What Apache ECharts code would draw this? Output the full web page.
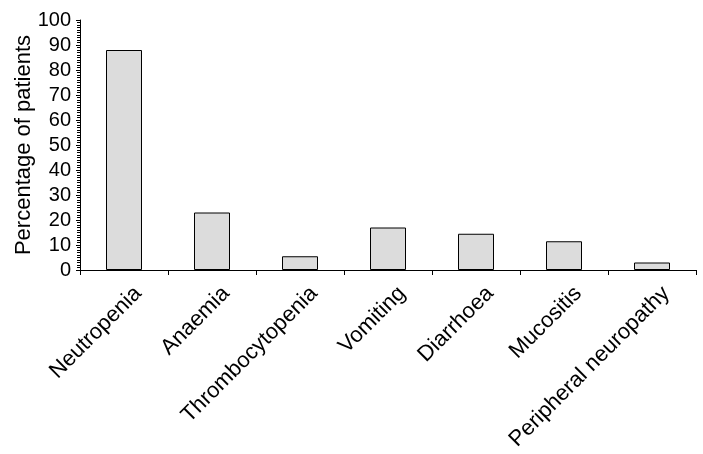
<!DOCTYPE html>
<html>
<head>
<meta charset="utf-8">
<script src="https://cdn.jsdelivr.net/npm/echarts@6/dist/echarts.min.js"></script>
<style>
  html, body { margin: 0; padding: 0; background: #fff; }
  #chart { width: 703px; height: 454px; }
</style>
</head>
<body>
<div id="chart"></div>
<script>
var categories = ['Neutropenia', 'Anaemia', 'Thrombocytopenia', 'Vomiting', 'Diarrhoea', 'Mucositis', 'Peripheral neuropathy']
var percentages = [88, 23, 5.5, 17, 14.5, 11.5, 3]

var font = '"Liberation Sans", Arial, sans-serif'
var chart = echarts.init(document.getElementById('chart'))
chart.setOption({
  backgroundColor: '#fff',
  animation: false,
  grid: {
    left: 80,
    right: 7,
    top: 20,
    bottom: 184,
    outerBoundsMode: 'none'
  },
  xAxis: {
    type: 'category',
    data: categories,
    axisLine: { lineStyle: { color: '#000', width: 1 } },
    axisTick: { show: true, length: 5, lineStyle: { color: '#000' } },
    axisLabel: {
      rotate: 45,
      margin: 6,
      verticalAlign: 'top',
      lineHeight: 40,
      color: '#000',
      fontSize: 22,
      fontFamily: font
    }
  },
  yAxis: {
    type: 'value',
    min: 0,
    max: 100,
    interval: 10,
    name: 'Percentage of patients',
    nameLocation: 'middle',
    nameMoveOverlap: false,
    nameGap: 45,
    nameTextStyle: { color: '#000', fontSize: 22, fontFamily: font },
    axisLine: { show: true, lineStyle: { color: '#000', width: 1 } },
    axisTick: { show: true, length: 4, lineStyle: { color: '#000' } },
    minorTick: { show: true, splitNumber: 10, length: 3, lineStyle: { color: '#000' } },
    splitLine: { show: false },
    axisLabel: {
      margin: 9,
      color: '#000',
      fontSize: 20,
      fontFamily: font
    }
  },
  series: [
    {
      type: 'bar',
      data: percentages,
      barWidth: 36,
      itemStyle: {
        color: '#dcdcdc',
        borderColor: '#000',
        borderWidth: 1
      }
    }
  ]
})
</script>
</body>
</html>
